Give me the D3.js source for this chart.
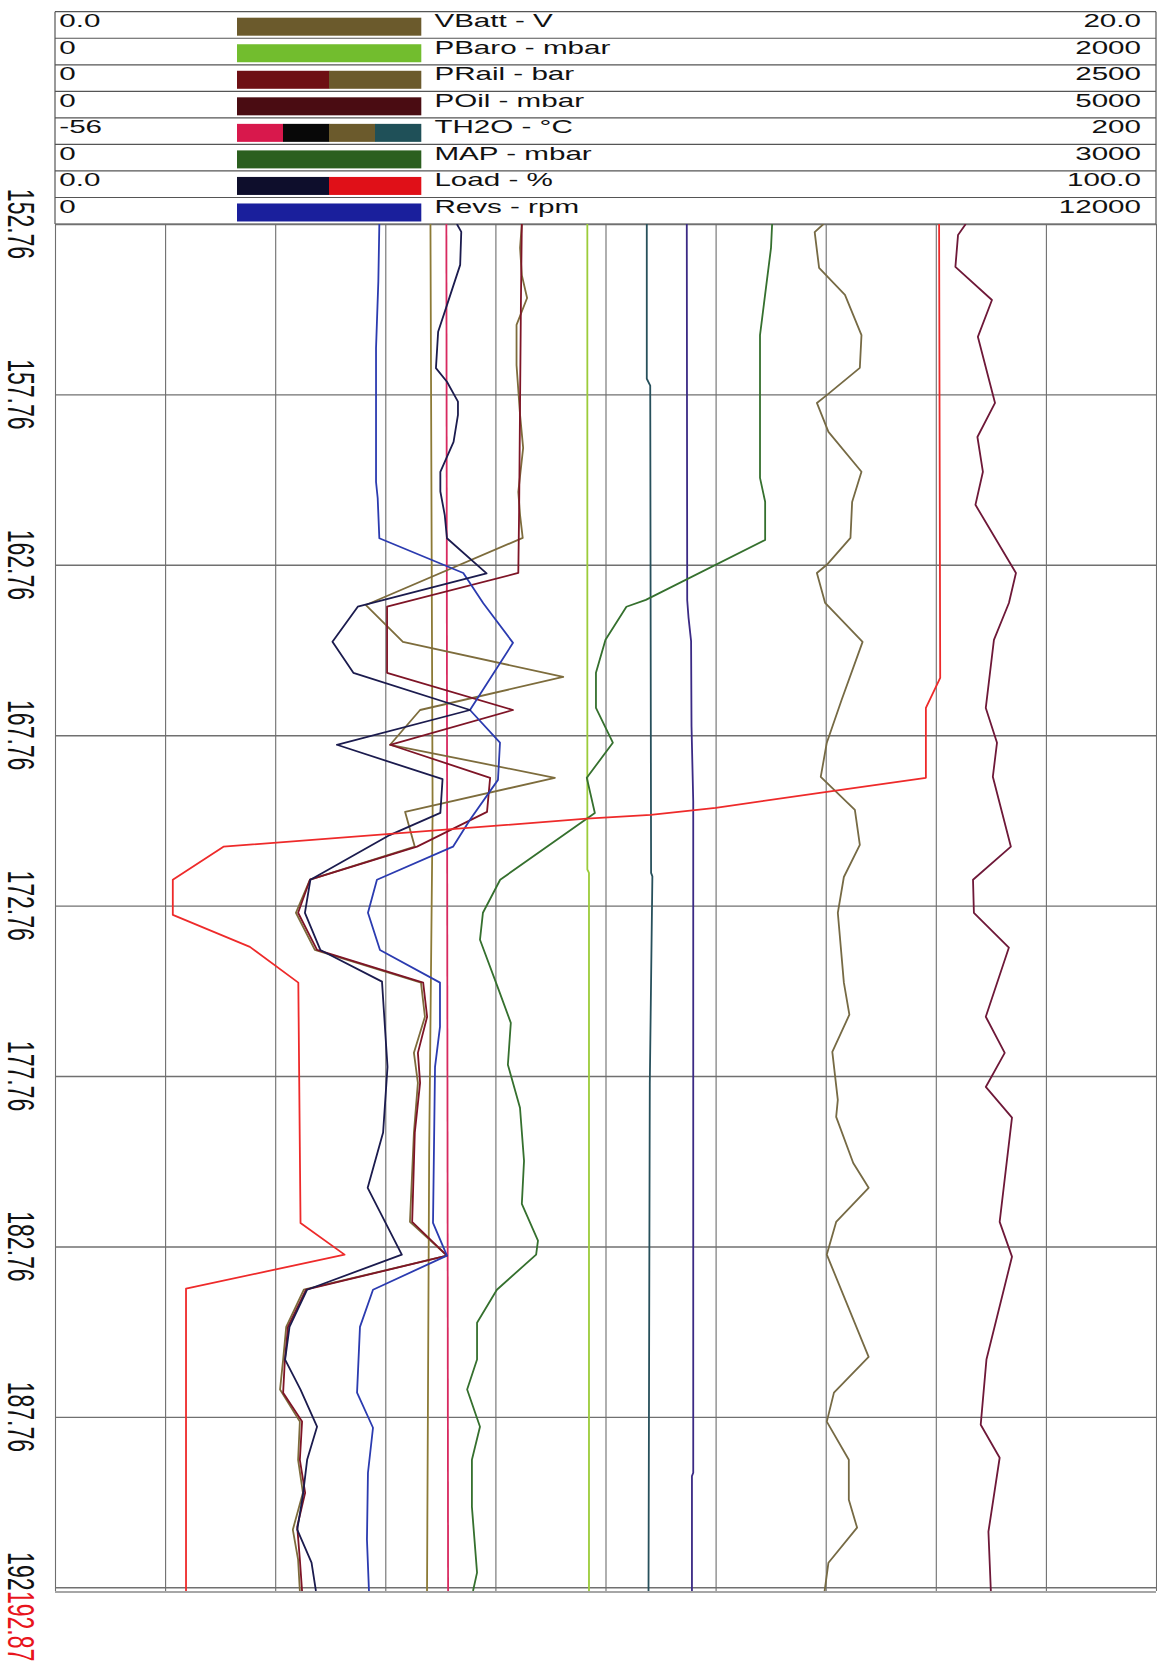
<!DOCTYPE html>
<html>
<head>
<meta charset="utf-8">
<script src="https://cdn.jsdelivr.net/npm/d3@7"></script>
<style>
  body { margin: 0; background: #fff; }
  svg { display: block; }
  text { font-family: "Liberation Sans", Arial, sans-serif; }
</style>
</head>
<body>
<div id="chart"></div>
<script>
// channel table (legend rows)
var channelNames = ["VBatt - V", "PBaro - mbar", "PRail - bar", "POil - mbar", "TH2O - °C", "MAP - mbar", "Load - %", "Revs - rpm"];
var channelMin = [0, 0, 0, 0, -56, 0, 0, 0];
var channelMax = [20, 2000, 2500, 5000, 200, 3000, 100, 12000];
var minLabels = ["0.0", "0", "0", "0", "-56", "0", "0.0", "0"];
var maxLabels = ["20.0", "2000", "2500", "5000", "200", "3000", "100.0", "12000"];
var swatchColors = [
  ["#6b5a2c"], ["#72bd2e"], ["#6e1014", "#6b5a2c"], ["#4a0c12"],
  ["#d8184c", "#080808", "#6b5a2c", "#1f5058"], ["#2b5f1f"], ["#0e0e2c", "#e01018"], ["#1a1f9c"]
];

// time axis (seconds)
var timeTicks = [152.76, 157.76, 162.76, 167.76, 172.76, 177.76, 182.76, 187.76, 192.76];
var timeEnd = 192.87;

// traces, [time, value]
var vbattData = [[152.76,13.96],[153.0,13.80],[154.05,13.88],[154.84,14.35],[156.02,14.65],[156.98,14.62],[157.78,14.02],[158.01,13.84],[158.86,14.05],[160.03,14.65],[160.92,14.48],[161.97,14.45],[162.76,14.02],[163.0,13.84],[163.88,13.99],[165.02,14.67],[166.72,14.29],[167.98,14.02],[168.98,13.91],[169.95,14.53],[170.98,14.62],[171.92,14.33],[172.97,14.22],[175.02,14.33],[175.96,14.43],[177.05,14.12],[178.46,14.22],[178.96,14.19],[180.31,14.50],[181.04,14.78],[182.04,14.19],[183.0,14.02],[186.0,14.78],[187.05,14.15],[187.9,14.02],[189.02,14.42],[190.19,14.42],[191.01,14.57],[192.04,14.05],[192.87,13.98]];
var pbaroData = [[152.76,967],[171.7,967],[171.8,970],[192.87,970]];
var prailRedData = [[152.76,1060],[155.0,1058],[158.0,1056],[161.0,1054],[163.0,1052],[163.99,754],[165.93,754],[167.02,1040],[168.04,761],[169.01,988],[170.01,981],[171.03,822],[172.0,579],[172.97,552],[174.06,595],[175.02,836],[176.02,845],[177.08,824],[177.96,829],[179.42,817],[182.04,811],[183.03,890],[184.03,570],[185.12,529],[186.08,522],[187.05,518],[187.90,561],[189.02,556],[189.99,568],[190.98,550],[191.95,556],[192.87,561]];
var prailOliveData = [[152.76,1060],[153.46,1056],[154.26,1060],[154.93,1072],[155.72,1048],[156.90,1048],[158.36,1056],[159.33,1063],[160.62,1052],[161.30,1056],[161.97,1062],[163.94,706],[165.02,790],[166.05,1154],[167.02,829],[168.04,761],[169.01,1135],[170.01,795],[171.03,817],[172.0,579],[172.97,547],[174.06,590],[175.02,831],[176.02,840],[177.08,815],[177.96,824],[179.42,815],[182.04,806],[183.03,890],[184.03,565],[185.12,525],[186.08,518],[186.96,511],[187.90,556],[189.02,552],[189.99,563],[191.07,540],[191.95,552],[192.87,556]];
var poilData = [[152.76,4136],[153.08,4101],[154.02,4089],[154.99,4255],[156.07,4191],[158.01,4269],[159.01,4189],[160.03,4214],[161.0,4180],[163.0,4364],[163.88,4332],[164.96,4264],[166.96,4227],[167.98,4278],[168.98,4259],[171.03,4341],[172.0,4169],[172.97,4173],[173.99,4332],[176.02,4227],[177.08,4313],[178.08,4227],[178.98,4346],[182.04,4290],[183.06,4346],[186.08,4230],[187.99,4204],[188.96,4290],[191.13,4239],[192.87,4250]];
var th2oCrimsonData = [[152.76,35.0],[192.87,35.4]];
var th2oBlackData = [[152.76,90.9],[163.8,91.0],[164.3,91.3],[165.0,91.9],[167.5,92.0],[169.7,92.4],[189.4,92.4],[189.5,92.1],[192.87,92.1]];
var th2oOliveData = [[152.76,31.3],[170.0,31.8],[180.0,31.0],[192.87,30.5]];
var th2oTealData = [[152.76,81.6],[157.3,81.6],[157.5,82.4],[171.8,82.6],[171.9,82.9],[178.0,82.3],[192.87,82.0]];
var mapData = [[152.76,1954],[153.46,1951],[156.02,1921],[160.21,1921],[160.91,1935],[162.03,1935],[163.79,1610],[163.99,1557],[164.96,1500],[165.93,1474],[166.96,1474],[167.98,1520],[169.01,1449],[170.04,1471],[172.0,1213],[172.97,1166],[173.76,1158],[175.26,1210],[176.20,1242],[177.43,1234],[178.69,1267],[180.25,1278],[181.51,1272],[182.59,1316],[183.0,1311],[184.03,1204],[185.0,1150],[186.08,1150],[186.96,1123],[188.05,1158],[189.02,1136],[190.40,1136],[192.33,1150],[192.87,1139]];
var loadNavyData = [[152.76,36.5],[152.99,36.9],[153.96,36.8],[155.14,35.6],[155.92,34.8],[156.99,34.6],[157.39,35.6],[157.97,36.6],[158.36,36.6],[159.15,36.2],[160.03,35.0],[160.61,35.0],[161.30,35.4],[161.98,35.6],[163.01,39.2],[163.99,27.5],[165.02,25.2],[165.93,27.1],[167.02,37.7],[168.04,25.6],[169.05,35.2],[170.04,35.0],[170.69,30.4],[172.0,23.2],[172.97,22.7],[174.06,24.1],[174.99,29.7],[177.49,30.2],[179.42,29.8],[181.04,28.4],[183.0,31.5],[184.03,22.9],[185.12,21.3],[186.08,20.9],[186.96,22.3],[188.05,23.8],[189.02,22.9],[190.10,22.5],[191.07,22.0],[192.04,23.3],[192.87,23.7]];
var loadRedData = [[152.76,80.3],[166.08,80.4],[166.96,79.1],[169.01,79.1],[169.42,70.1],[169.89,60.0],[170.10,54.1],[170.21,48.3],[171.03,15.3],[172.0,10.7],[173.03,10.7],[173.97,17.7],[175.02,22.1],[182.07,22.3],[183.0,26.3],[184.0,11.9],[192.87,11.9]];
var revsData = [[152.76,3535],[154.45,3524],[156.40,3499],[160.33,3499],[160.80,3517],[161.98,3535],[163.0,4450],[163.89,4668],[165.05,4992],[167.02,4523],[167.98,4850],[169.07,4828],[170.24,4523],[171.03,4338],[172.0,3509],[172.97,3411],[174.06,3542],[175.02,4196],[176.32,4196],[177.49,4142],[182.07,4120],[183.03,4272],[184.03,3466],[185.12,3324],[187.05,3292],[188.08,3466],[189.40,3411],[191.36,3400],[192.87,3422]];

var traces = [
  { ch: 1, color: "#9ccc3a", data: pbaroData },
  { ch: 4, color: "#8c7a36", data: th2oOliveData },
  { ch: 4, color: "#d82a60", data: th2oCrimsonData },
  { ch: 4, color: "#27505c", data: th2oTealData },
  { ch: 4, color: "#3b2a85", data: th2oBlackData },
  { ch: 5, color: "#35702e", data: mapData },
  { ch: 0, color: "#766a44", data: vbattData },
  { ch: 3, color: "#6e1838", data: poilData },
  { ch: 2, color: "#7d6c3c", data: prailOliveData },
  { ch: 2, color: "#7e1426", data: prailRedData },
  { ch: 7, color: "#2b3bb0", data: revsData },
  { ch: 6, color: "#1b1b4e", data: loadNavyData },
  { ch: 6, color: "#ee2a2a", data: loadRedData }
];

var width = 1157, height = 1671;
var plotLeft = 55, plotRight = 1156, plotTop = 224, plotBottom = 1591;
var tableTop = 11.7, rowH = 26.54;

var svg = d3.select("#chart").append("svg")
  .attr("width", width)
  .attr("height", height);

// legend table
var table = svg.append("g");
channelNames.forEach(function(name, i) {
  var ry = tableTop + i * rowH;
  var sw = swatchColors[i];
  var segW = (421 - 237) / sw.length;
  sw.forEach(function(c, j) {
    table.append("rect")
      .attr("x", 237 + j * segW).attr("y", ry + 6)
      .attr("width", segW + 0.3).attr("height", 18)
      .attr("fill", c);
  });
  table.append("text")
    .attr("transform", "translate(59.3," + (ry + 15.5) + ") scale(1.6,1)")
    .attr("font-size", 18.5).attr("fill", "#111")
    .text(minLabels[i]);
  table.append("text")
    .attr("transform", "translate(434.4," + (ry + 15.5) + ") scale(1.6,1)")
    .attr("font-size", 18.5).attr("fill", "#111")
    .text(name);
  table.append("text")
    .attr("transform", "translate(1141," + (ry + 15.5) + ") scale(1.6,1)")
    .attr("font-size", 18.5).attr("fill", "#111")
    .attr("text-anchor", "end")
    .text(maxLabels[i]);
});
d3.range(channelNames.length + 1).forEach(function(i) {
  table.append("line")
    .attr("x1", plotLeft).attr("x2", plotRight)
    .attr("y1", tableTop + i * rowH).attr("y2", tableTop + i * rowH)
    .attr("stroke", "#555").attr("stroke-width", 1.2);
});
[plotLeft, plotRight].forEach(function(x) {
  table.append("line")
    .attr("x1", x).attr("x2", x)
    .attr("y1", tableTop).attr("y2", plotTop)
    .attr("stroke", "#555").attr("stroke-width", 1.2);
});

// scales
var y = d3.scaleLinear().domain([timeTicks[0], timeEnd]).range([plotTop, plotBottom]);
var grid = d3.scaleLinear().domain([0, 100]).range([plotLeft, plotRight]);
var xs = channelNames.map(function(n, i) {
  return d3.scaleLinear().domain([channelMin[i], channelMax[i]]).range([plotLeft, plotRight]);
});

// grid
svg.append("g")
  .attr("transform", "translate(" + plotLeft + ",0)")
  .call(d3.axisLeft(y).tickValues(timeTicks).tickSize(-(plotRight - plotLeft)).tickFormat(""))
  .call(function(g) {
    g.select(".domain").remove();
    g.selectAll("line").attr("stroke", "#707070").attr("stroke-width", 1.4);
  });
svg.append("g")
  .attr("transform", "translate(0," + plotTop + ")")
  .call(d3.axisBottom(grid).tickValues(d3.range(0, 101, 10)).tickSize(plotBottom - plotTop).tickFormat(""))
  .call(function(g) {
    g.select(".domain").remove();
    g.selectAll("line").attr("stroke", "#6e6e6e").attr("stroke-width", 1.1);
  });
svg.append("line")
  .attr("x1", plotLeft).attr("x2", plotRight)
  .attr("y1", y(timeEnd) + 1).attr("y2", y(timeEnd) + 1)
  .attr("stroke", "#888").attr("stroke-width", 1.3);

// traces
svg.append("clipPath").attr("id", "plotClip")
  .append("rect").attr("x", plotLeft).attr("y", plotTop)
  .attr("width", plotRight - plotLeft).attr("height", plotBottom - plotTop);

var traceLayer = svg.append("g").attr("clip-path", "url(#plotClip)");
traces.forEach(function(tr) {
  var line = d3.line()
    .x(function(d) { return xs[tr.ch](d[1]); })
    .y(function(d) { return y(d[0]); });
  traceLayer.append("path")
    .datum(tr.data)
    .attr("d", line)
    .attr("fill", "none")
    .attr("stroke", tr.color)
    .attr("stroke-width", 1.8)
    .attr("stroke-linejoin", "round");
});

// rotated time labels
timeTicks.forEach(function(t) {
  svg.append("text")
    .attr("transform", "translate(8," + y(t) + ") rotate(90) scale(1,1.6)")
    .attr("font-size", 23)
    .attr("text-anchor", "middle")
    .attr("fill", "#111")
    .text(t.toFixed(2));
});
svg.append("rect")
  .attr("x", 0).attr("y", y(timeEnd) - 0.5)
  .attr("width", 45).attr("height", 80)
  .attr("fill", "#fff");
svg.append("text")
  .attr("transform", "translate(8," + y(timeEnd) + ") rotate(90) scale(1,1.6)")
  .attr("font-size", 23)
  .attr("fill", "#e8141c")
  .text(timeEnd.toFixed(2));
</script>
</body>
</html>
